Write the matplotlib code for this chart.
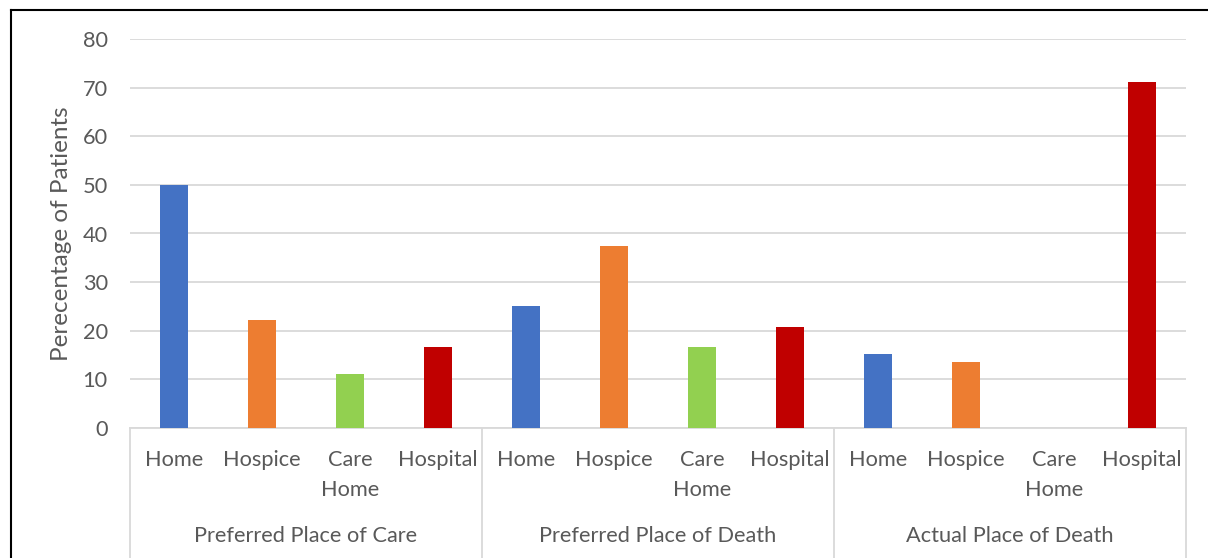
import matplotlib.pyplot as plt
from matplotlib.lines import Line2D

groups = ["Preferred Place of Care", "Preferred Place of Death", "Actual Place of Death"]
places = ["Home", "Hospice", "Care\nHome", "Hospital"]
values = [
    [50.0, 22.2, 11.1, 16.7],
    [25.0, 37.5, 16.7, 20.8],
    [15.2, 13.6, 0.0, 71.2],
]
colors = ["#4472C4", "#ED7D31", "#92D050", "#C00000"]

plt.rcParams['font.family'] = ['Lato', 'DejaVu Sans']
txt = "#595959"
grid = "#d9d9d9"
fs = 15.7

W, H = 1208, 558
fig = plt.figure(figsize=(W / 100, H / 100), dpi=100)
ax = fig.add_axes([130 / W, 1 - 428 / H, (1186 - 130) / W, (428 - 39) / H])

xs = []
cols = []
heights = []
for g, vals in enumerate(values):
    for i, v in enumerate(vals):
        xs.append(g * len(places) + i)
        cols.append(colors[i])
        heights.append(v)
ax.bar(xs, heights, width=0.32, color=cols, zorder=3)

ax.set_xlim(-0.5, len(xs) - 0.5)
ax.set_ylim(0, 80)
ax.set_yticks(range(0, 81, 10))
ax.yaxis.grid(True, color=grid, linewidth=1.3, zorder=0)
ax.tick_params(axis='y', length=0, pad=16, labelsize=fs, labelcolor=txt)
ax.set_xticks([])
for s in ["top", "right", "left"]:
    ax.spines[s].set_visible(False)
ax.spines["bottom"].set_color(grid)
ax.spines["bottom"].set_linewidth(1.3)

fig.text(62 / W, 1 - 234 / H, "Perecentage of Patients", rotation=90,
         ha="center", va="center", fontsize=17.5, color=txt)

tr = ax.get_xaxis_transform()
ah = 428 - 39
labels = [p for _ in groups for p in places]
for x, lab in zip(xs, labels):
    for k, line in enumerate(lab.split("\n")):
        ax.text(x, -(460 + 30 * k - 428) / ah, line, transform=tr, ha="center",
                va="center", fontsize=fs, color=txt)
for gi, name in enumerate(groups):
    xc = gi * len(places) + (len(places) - 1) / 2
    ax.text(xc, -(536 - 428) / ah, name, transform=tr, ha="center", va="center",
            fontsize=fs, color=txt)
for b in range(len(groups) + 1):
    xb = b * len(places) - 0.5
    ax.add_line(Line2D([xb, xb], [0, -(H - 428) / ah], transform=tr,
                       color=grid, linewidth=1.3, clip_on=False))

# chart border (top and left edges visible)
fig.add_artist(Line2D([11 / W, 1], [1 - 10 / H, 1 - 10 / H], color="black", linewidth=1.5))
fig.add_artist(Line2D([11 / W, 11 / W], [0, 1 - 10 / H], color="black", linewidth=1.5))

fig.savefig("out.png", dpi=100, facecolor="white")
